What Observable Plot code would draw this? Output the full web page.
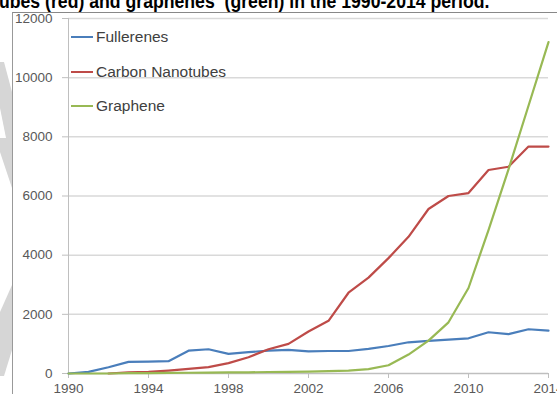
<!DOCTYPE html>
<html>
<head>
<meta charset="utf-8">
<script src="https://cdn.jsdelivr.net/npm/d3@7"></script>
<script src="https://cdn.jsdelivr.net/npm/@observablehq/plot@0.6"></script>
<style>
  html, body { margin: 0; padding: 0; background: #fff; overflow: hidden; }
  #wrap { position: relative; width: 557px; height: 394px; overflow: hidden; font-family: "Liberation Sans", Arial, sans-serif; }
  #title { position: absolute; left: -1px; top: -11px; font-weight: bold; font-size: 19.5px; line-height: 24px; color: #000; white-space: pre; z-index: 3; transform: scaleX(0.905); transform-origin: 0 0; }
  #frame { position: absolute; left: 12px; top: 12px; right: -2px; bottom: -2px; border-top: 1px solid #888; border-left: 1px solid #999; z-index: 2; pointer-events: none; }
  #wm { position: absolute; left: 0; top: 0; z-index: 0; }
  #chart { position: absolute; left: 0; top: 0; z-index: 1; }
  #legend { position: absolute; left: 71px; top: 0; z-index: 2; font-size: 15.5px; color: #404040; }
  .item { position: absolute; left: 0; white-space: nowrap; display: flex; align-items: center; }
  .sw { display: inline-block; width: 22px; height: 2px; margin-right: 3px; }
</style>
</head>
<body>
<div id="wrap">
  <svg id="wm" width="20" height="394">
    <polygon points="0,62 4,62 12,92 12,188 0,152" fill="#d6d6d6"></polygon>
    <polygon points="0,108 6,138 0,138" fill="#ffffff"></polygon>
    <polygon points="12,285 12,350 4,376 0,376 0,312" fill="#d6d6d6"></polygon>
  </svg>
  <div id="chart"></div>
  <div id="frame"></div>
  <div id="title">ubes (red) and graphenes  (green) in the 1990-2014 period.</div>
  <div id="legend"></div>
</div>
<script>
const years = [1990,1991,1992,1993,1994,1995,1996,1997,1998,1999,2000,2001,2002,2003,2004,2005,2006,2007,2008,2009,2010,2011,2012,2013,2014];
const fullerenes = [0,57,210,395,400,415,770,820,665,720,775,800,750,760,760,830,930,1055,1100,1145,1190,1395,1330,1495,1450];
const nanotubeYears = [1992,1993,1994,1995,1996,1997,1998,1999,2000,2001,2002,2003,2004,2005,2006,2007,2008,2009,2010,2011,2012,2013,2014];
const nanotubes = [0,40,60,100,155,215,350,550,820,1000,1420,1780,2730,3240,3900,4620,5560,6000,6100,6880,6990,7670,7670];
const graphene = [0,0,0,10,15,20,25,30,35,40,50,55,65,80,100,150,280,640,1110,1730,2890,4850,6900,9050,11200];
const seriesNames = ["Fullerenes","Carbon Nanotubes","Graphene"];
const seriesColors = ["#4a7ebb","#be4b48","#98b954"];
const xTicks = [1990,1994,1998,2002,2006,2010,2014];
const yTicks = [0,2000,4000,6000,8000,10000,12000];

const rows = [];
years.forEach((y,i) => rows.push({year:y, value:fullerenes[i], series:seriesNames[0]}));
nanotubeYears.forEach((y,i) => rows.push({year:y, value:nanotubes[i], series:seriesNames[1]}));
years.forEach((y,i) => rows.push({year:y, value:graphene[i], series:seriesNames[2]}));

const chart = Plot.plot({
  width: 557,
  height: 394,
  marginLeft: 68,
  marginRight: 9,
  marginTop: 18,
  marginBottom: 21,
  style: {fontFamily: "'Liberation Sans', Arial, sans-serif", fontSize: "13.5px", background: "transparent", overflow: "visible"},
  x: {domain: [1990, 2014]},
  y: {domain: [0, 12000]},
  color: {domain: seriesNames, range: seriesColors},
  marks: [
    Plot.gridY(yTicks.filter(d => d > 0), {stroke: "#d9d9d9", strokeOpacity: 1, strokeWidth: 1.5}),
    Plot.ruleX([1990], {stroke: "#bfbfbf", strokeWidth: 1}),
    Plot.ruleY([0], {stroke: "#bfbfbf", strokeWidth: 1.5}),
    Plot.axisY(yTicks, {tickSize: 6, tickPadding: 10, stroke: "#bfbfbf", fill: "#595959", label: null, tickFormat: d => String(d)}),
    Plot.axisX(xTicks, {tickSize: 5, tickPadding: 5, stroke: "#bfbfbf", fill: "#595959", label: null, tickFormat: d => String(d)}),
    Plot.lineY(rows, {x: "year", y: "value", z: "series", stroke: "series", strokeWidth: 2.2})
  ]
});
document.getElementById("chart").appendChild(chart);

const legend = document.getElementById("legend");
const legendTops = [37, 72, 106];
seriesNames.forEach((name, i) => {
  const item = document.createElement("div");
  item.className = "item";
  item.style.top = (legendTops[i] - 10) + "px";
  item.style.height = "20px";
  const sw = document.createElement("span");
  sw.className = "sw";
  sw.style.background = seriesColors[i];
  item.appendChild(sw);
  const t = document.createElement("span");
  t.textContent = name;
  item.appendChild(t);
  legend.appendChild(item);
});
</script>
</body>
</html>
